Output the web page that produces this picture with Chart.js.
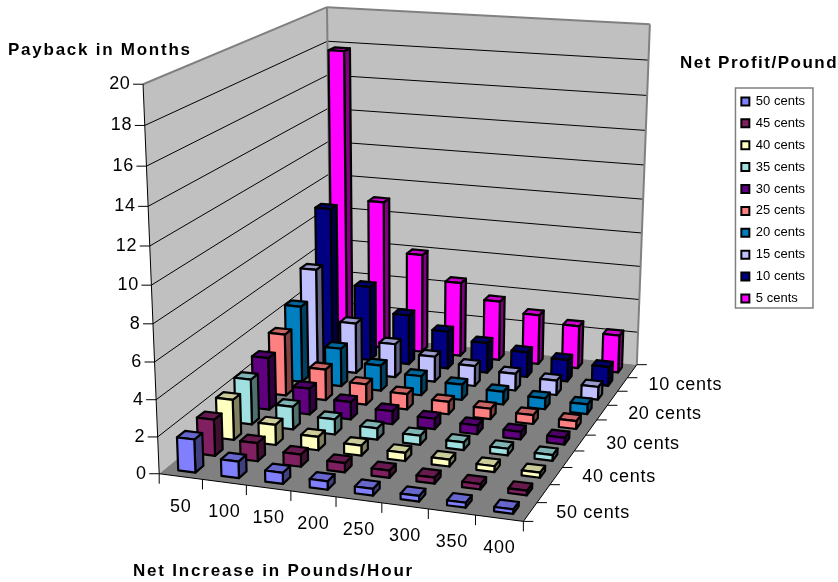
<!DOCTYPE html>
<html>
<head>
<meta charset="utf-8">
<title>Payback in Months</title>
<script src="https://cdn.jsdelivr.net/npm/chart.js@4/dist/chart.umd.js"></script>
<style>
  html, body { margin: 0; padding: 0; background: #fff; }
  canvas { display: block; }
</style>
</head>
<body>
<canvas id="myChart" width="838" height="582"></canvas>
<script>
const pounds = ["50", "100", "150", "200", "250", "300", "350", "400"];
const yTicks = { min: 0, max: 20, stepSize: 2 };

// front row first, the chart draws datasets last to first
const seriesNames = ["50 cents", "45 cents", "40 cents", "35 cents", "30 cents", "25 cents", "20 cents", "15 cents", "10 cents", "5 cents"];
const seriesColors = ["#8080ff", "#802060", "#ffffc0", "#a0e0e0", "#600080", "#ff8080", "#0080c0", "#c0c0ff", "#000080", "#ff00ff"];

const cents50 = [1.8, 0.9, 0.6, 0.45, 0.36, 0.3, 0.26, 0.23];
const cents45 = [2, 1, 0.67, 0.5, 0.4, 0.33, 0.29, 0.25];
const cents40 = [2.25, 1.13, 0.75, 0.56, 0.45, 0.38, 0.32, 0.28];
const cents35 = [2.57, 1.29, 0.86, 0.64, 0.51, 0.43, 0.37, 0.32];
const cents30 = [3, 1.5, 1, 0.75, 0.6, 0.5, 0.43, 0.38];
const cents25 = [3.6, 1.8, 1.2, 0.9, 0.72, 0.6, 0.51, 0.45];
const cents20 = [4.5, 2.25, 1.5, 1.13, 0.9, 0.75, 0.64, 0.56];
const cents15 = [6, 3, 2, 1.5, 1.2, 1, 0.86, 0.75];
const cents10 = [9, 4.5, 3, 2.25, 1.8, 1.5, 1.29, 1.13];
const cents5 = [17.8, 9, 6, 4.5, 3.6, 3, 2.57, 2.25];
const seriesValues = [cents50, cents45, cents40, cents35, cents30, cents25, cents20, cents15, cents10, cents5];

// where the corners of the unit plot box land on the canvas: [u, w, v, px, py]
const boxCorners = [
  [0, 0, 0, 159.3, 472.7],
  [0, 0, 1, 143.3, 84],
  [1, 0, 0, 523, 522.7],
  [0, 1, 0, 331, 334],
  [0, 1, 1, 326.7, 6.7],
  [1, 1, 0, 637, 363],
  [1, 1, 1, 650, 25],
];

const BAR_WIDTH = 0.4; // share of a category slot, same on both floor axes
const BAR_LINE = 2.2;
const LABEL_FONT = '18px "Liberation Sans", Arial, sans-serif';
const TITLE_FONT = 'bold 17px "Liberation Sans", Arial, sans-serif';

// least squares fit of the 3x4 camera matrix (last entry fixed at 1)
function fitCamera(corners) {
  const n = 11;
  const ata = [];
  const atb = new Array(n).fill(0);
  for (let i = 0; i < n; i++) ata.push(new Array(n).fill(0));
  corners.forEach(([u, w, v, px, py]) => {
    const rows = [
      [[u, w, v, 1, 0, 0, 0, 0, -px * u, -px * w, -px * v], px],
      [[0, 0, 0, 0, u, w, v, 1, -py * u, -py * w, -py * v], py],
    ];
    rows.forEach(([row, b]) => {
      for (let i = 0; i < n; i++) {
        atb[i] += row[i] * b;
        for (let j = 0; j < n; j++) ata[i][j] += row[i] * row[j];
      }
    });
  });
  for (let c = 0; c < n; c++) {
    let pivot = c;
    for (let r = c + 1; r < n; r++) {
      if (Math.abs(ata[r][c]) > Math.abs(ata[pivot][c])) pivot = r;
    }
    [ata[c], ata[pivot]] = [ata[pivot], ata[c]];
    [atb[c], atb[pivot]] = [atb[pivot], atb[c]];
    for (let r = 0; r < n; r++) {
      if (r === c) continue;
      const f = ata[r][c] / ata[c][c];
      for (let k = c; k < n; k++) ata[r][k] -= f * ata[c][k];
      atb[r] -= f * atb[c];
    }
  }
  return atb.map((b, i) => b / ata[i][i]);
}

const cam = fitCamera(boxCorners);

function project(u, w, v) {
  const d = cam[8] * u + cam[9] * w + cam[10] * v + 1;
  return {
    x: (cam[0] * u + cam[1] * w + cam[2] * v + cam[3]) / d,
    y: (cam[4] * u + cam[5] * w + cam[6] * v + cam[7]) / d,
  };
}

// scale value -> 0..1 along that scale
const fracX = (scale, value) => (scale.getPixelForValue(value) - scale.left) / scale.width;
const fracY = (scale, value) => (scale.bottom - scale.getPixelForValue(value)) / scale.height;

function quad(ctx, points, fill, stroke, lineWidth) {
  ctx.beginPath();
  points.forEach((p, i) => {
    const q = project(p[0], p[1], p[2]);
    if (i === 0) ctx.moveTo(q.x, q.y);
    else ctx.lineTo(q.x, q.y);
  });
  ctx.closePath();
  if (fill) {
    ctx.fillStyle = fill;
    ctx.fill();
  }
  if (stroke) {
    ctx.strokeStyle = stroke;
    ctx.lineWidth = lineWidth;
    ctx.stroke();
  }
}

function line3d(ctx, a, b, color, lineWidth) {
  const p = project(a[0], a[1], a[2]);
  const q = project(b[0], b[1], b[2]);
  ctx.beginPath();
  ctx.moveTo(p.x, p.y);
  ctx.lineTo(q.x, q.y);
  ctx.strokeStyle = color;
  ctx.lineWidth = lineWidth;
  ctx.stroke();
}

function shade(hex, k) {
  const n = parseInt(hex.slice(1), 16);
  const r = Math.round((n >> 16) * k);
  const g = Math.round(((n >> 8) & 255) * k);
  const b = Math.round((n & 255) * k);
  return "rgb(" + r + "," + g + "," + b + ")";
}

// bars as boxes standing on the floor of the plot box
class Bar3dController extends Chart.BarController {
  draw() {
    const ctx = this.chart.ctx;
    const meta = this.getMeta();
    const xScale = meta.xScale;
    const yScale = meta.yScale;
    const zScale = this.chart.scales.z;
    const color = this.getDataset().backgroundColor;
    const half = BAR_WIDTH / 2;
    const w0 = fracX(zScale, this.index - half);
    const w1 = fracX(zScale, this.index + half);
    ctx.save();
    ctx.lineJoin = "round";
    meta.data.forEach((bar, i) => {
      const u0 = fracX(xScale, i - half);
      const u1 = fracX(xScale, i + half);
      const v = fracY(yScale, this.getParsed(i).y);
      quad(ctx, [[u1, w0, 0], [u1, w1, 0], [u1, w1, v], [u1, w0, v]], shade(color, 0.5), "#000", BAR_LINE);
      quad(ctx, [[u0, w0, v], [u1, w0, v], [u1, w1, v], [u0, w1, v]], shade(color, 0.8), "#000", BAR_LINE);
      quad(ctx, [[u0, w0, 0], [u1, w0, 0], [u1, w0, v], [u0, w0, v]], color, "#000", BAR_LINE);
    });
    ctx.restore();
  }
}
Bar3dController.id = "bar3d";
Bar3dController.defaults = Chart.BarController.defaults;
Bar3dController.overrides = Chart.BarController.overrides;
Chart.register(Bar3dController);

function spacedText(ctx, text, x, y, font, spacing) {
  ctx.font = font;
  ctx.letterSpacing = spacing + "px";
  ctx.fillStyle = "#000";
  ctx.fillText(text, x, y);
  ctx.letterSpacing = "0px";
}

const plotBox = {
  id: "plotBox",
  beforeDatasetsDraw(chart) {
    const ctx = chart.ctx;
    const { x, y, z } = chart.scales;
    ctx.save();

    // walls and floor
    quad(ctx, [[0, 0, 0], [0, 1, 0], [0, 1, 1], [0, 0, 1]], "#c0c0c0");
    quad(ctx, [[0, 1, 0], [1, 1, 0], [1, 1, 1], [0, 1, 1]], "#c0c0c0");
    quad(ctx, [[0, 0, 0], [1, 0, 0], [1, 1, 0], [0, 1, 0]], "#808080");

    // gridlines on both walls
    y.ticks.forEach((t) => {
      const v = fracY(y, t.value);
      if (v <= 0 || v >= 1) return;
      line3d(ctx, [0, 0, v], [0, 1, v], "#000", 1);
      line3d(ctx, [0, 1, v], [1, 1, v], "#000", 1);
    });

    // wall edges
    line3d(ctx, [0, 0, 1], [0, 1, 1], "#808080", 2);
    line3d(ctx, [0, 1, 1], [1, 1, 1], "#808080", 2);
    line3d(ctx, [0, 1, 0], [0, 1, 1], "#808080", 2);
    line3d(ctx, [1, 1, 0], [1, 1, 1], "#808080", 2);

    // axis lines
    line3d(ctx, [0, 0, 0], [0, 0, 1], "#000", 1);
    line3d(ctx, [0, 0, 0], [1, 0, 0], "#000", 1);
    line3d(ctx, [1, 0, 0], [1, 1, 0], "#000", 1);

    ctx.strokeStyle = "#000";
    ctx.lineWidth = 1;
    ctx.fillStyle = "#000";
    ctx.font = LABEL_FONT;
    ctx.letterSpacing = "0.7px";

    // value axis
    ctx.textAlign = "right";
    ctx.textBaseline = "middle";
    y.ticks.forEach((t) => {
      const p = project(0, 0, fracY(y, t.value));
      ctx.beginPath();
      ctx.moveTo(p.x - 10, p.y);
      ctx.lineTo(p.x, p.y);
      ctx.stroke();
      ctx.fillText(t.label, p.x - 12.5, p.y);
    });

    // category axis, ticks sit between the slots
    ctx.textAlign = "center";
    for (let i = 0; i <= pounds.length; i++) {
      const p = project(fracX(x, i - 0.5), 0, 0);
      ctx.beginPath();
      ctx.moveTo(p.x, p.y);
      ctx.lineTo(p.x, p.y + 10);
      ctx.stroke();
    }
    x.ticks.forEach((t, i) => {
      const p = project(fracX(x, i), 0, 0);
      ctx.fillText(t.label, p.x, p.y + 30);
    });

    // depth axis
    ctx.textAlign = "left";
    for (let i = 0; i <= seriesNames.length; i++) {
      const p = project(1, fracX(z, i - 0.5), 0);
      ctx.beginPath();
      ctx.moveTo(p.x, p.y);
      ctx.lineTo(p.x + 10, p.y);
      ctx.stroke();
    }
    z.ticks.forEach((t, i) => {
      if (!t.label) return;
      const p = project(1, fracX(z, i), 0);
      ctx.fillText(t.label, p.x + 26, p.y + 1);
    });

    // axis titles
    ctx.textAlign = "left";
    spacedText(ctx, "Payback in Months", 8, 50, TITLE_FONT, 1.75);
    spacedText(ctx, "Net Profit/Pound", 680, 63, TITLE_FONT, 1.5);
    spacedText(ctx, "Net Increase in Pounds/Hour", 133, 571, TITLE_FONT, 1.8);

    // frame around the legend
    const lg = chart.legend;
    ctx.strokeStyle = "#808080";
    ctx.lineWidth = 1.5;
    ctx.strokeRect(lg.left + 3, lg.top + 2, 77.5, 220);
    ctx.restore();
  },
};

const chart = new Chart(document.getElementById("myChart"), {
  type: "bar3d",
  data: {
    labels: pounds,
    datasets: seriesNames.map((name, i) => ({
      label: name,
      data: seriesValues[i],
      backgroundColor: seriesColors[i],
      borderColor: "#000",
      borderWidth: 2,
      clip: false,
    })),
  },
  options: {
    responsive: false,
    animation: false,
    layout: { padding: { top: 86, right: 23, left: 0, bottom: 0 } },
    plugins: {
      legend: {
        position: "right",
        align: "start",
        labels: {
          boxWidth: 8,
          boxHeight: 8,
          padding: 8.9,
          color: "#000",
          font: { family: '"Liberation Sans", Arial, sans-serif', size: 13 },
        },
      },
      tooltip: { enabled: false },
    },
    scales: {
      x: { type: "category", display: false, offset: true, ticks: { autoSkip: false } },
      y: { type: "linear", display: false, min: yTicks.min, max: yTicks.max, ticks: { stepSize: yTicks.stepSize } },
      // depth axis, only every other series gets a label
      z: {
        type: "category",
        axis: "x",
        display: false,
        offset: true,
        labels: seriesNames,
        ticks: {
          autoSkip: false,
          callback: (value, index) => (index % 2 === 0 ? seriesNames[index] : ""),
        },
      },
    },
  },
  plugins: [plotBox],
});
</script>
</body>
</html>
